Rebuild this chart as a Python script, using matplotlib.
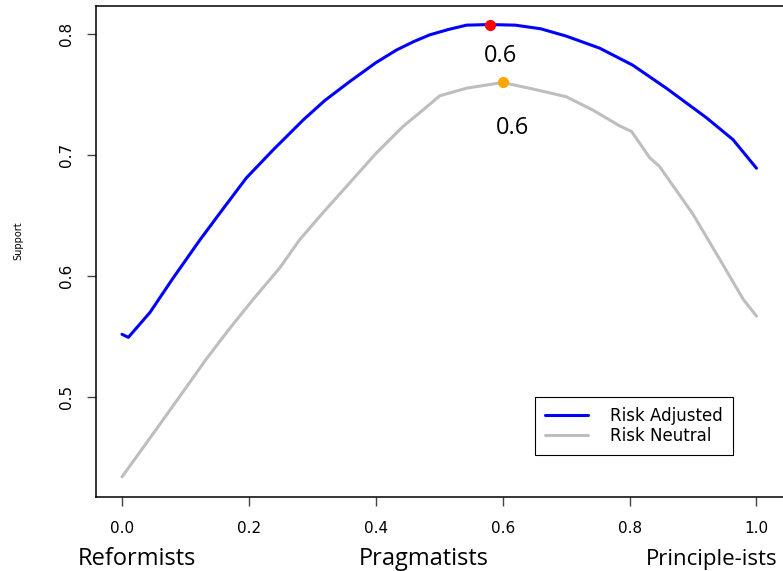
import numpy as np
import matplotlib.pyplot as plt

# risk adjusted curve (blue)
adj_x = [0, 0.01, 0.044, 0.08, 0.123, 0.16, 0.196, 0.238, 0.286, 0.32, 0.359, 0.40, 0.433, 0.46,
         0.485, 0.515, 0.543, 0.58, 0.62, 0.66, 0.70, 0.753, 0.805, 0.858, 0.921, 0.963, 1.0]
adj_y = [0.552, 0.5495, 0.570, 0.598, 0.630, 0.656, 0.681, 0.704, 0.729, 0.745, 0.7605, 0.776, 0.7866, 0.7935,
         0.799, 0.8035, 0.807, 0.8075, 0.807, 0.804, 0.798, 0.788, 0.774, 0.755, 0.7307, 0.7126, 0.689]

# risk neutral curve (gray)
neu_x = [0, 0.049, 0.09, 0.133, 0.17, 0.207, 0.249, 0.280, 0.312, 0.359, 0.401, 0.443, 0.475, 0.501,
         0.543, 0.6, 0.653, 0.70, 0.742, 0.784, 0.803, 0.832, 0.847, 0.90, 0.942, 0.979, 1.0]
neu_y = [0.4344, 0.470, 0.500, 0.5317, 0.557, 0.581, 0.607, 0.630, 0.6495, 0.677, 0.7016, 0.7235, 0.7373, 0.7488,
         0.755, 0.7597, 0.7537, 0.748, 0.737, 0.724, 0.7194, 0.6975, 0.6906, 0.651, 0.614, 0.581, 0.567]

# maxima
adj_max = (0.58, 0.8075)
neu_max = (0.60, 0.7597)

xticks = [0.0, 0.2, 0.4, 0.6, 0.8, 1.0]
yticks = [0.5, 0.6, 0.7, 0.8]
groups = ["Reformists", "Pragmatists", "Principle-ists"]

W, H = 783, 571
fig = plt.figure(figsize=(W / 100, H / 100), dpi=100)
ax = fig.add_axes([96 / W, 1 - 497 / H, 689 / W, 491 / H])

ax.plot(adj_x, adj_y, color="#0000FF", lw=2.2, label="Risk Adjusted", solid_capstyle="round")
ax.plot(neu_x, neu_y, color="#BEBEBE", lw=2.2, label="Risk Neutral", solid_capstyle="round")
ax.plot(*adj_max, "o", color="red", ms=7, zorder=5)
ax.plot(*neu_max, "o", color="orange", ms=7, zorder=5)

ax.text(0.597, 0.7813, "0.6", fontsize=17, family="Open Sans", ha="center", va="center")
ax.text(0.616, 0.7219, "0.6", fontsize=17, family="Open Sans", ha="center", va="center")

ax.set_xlim(-0.041, 1.045)
ax.set_ylim(0.4178, 0.8228)
ax.set_xticks(xticks)
ax.set_xticklabels(["%.1f" % v for v in xticks])
ax.set_yticks(yticks)
ax.set_yticklabels(["%.1f" % v for v in yticks], rotation=90, va="center")
ax.tick_params(axis="both", direction="out", length=6.5, width=1, color="#444444",
               labelsize=11)
ax.tick_params(axis="x", pad=11)
ax.tick_params(axis="y", pad=9)
for s in ax.spines.values():
    s.set_linewidth(1.1)

leg = ax.legend(loc="upper left", bbox_to_anchor=(535 / W, 1 - 397 / H), bbox_transform=fig.transFigure,
                borderaxespad=0, fontsize=12, frameon=True, fancybox=False, edgecolor="black",
                framealpha=1, handlelength=2.6, handletextpad=1.3, borderpad=0.6, labelspacing=0.1)
leg.get_frame().set_linewidth(0.8)

fig.text(18 / W, 1 - 240.5 / H, "Support", rotation=90, fontsize=7, ha="center", va="center")
fig.text(137 / W, 1 - 565 / H, groups[0], fontsize=17, family="Open Sans", ha="center", va="baseline")
fig.text(424 / W, 1 - 565 / H, groups[1], fontsize=17, family="Open Sans", ha="center", va="baseline")
fig.text(778 / W, 1 - 565 / H, groups[2], fontsize=16, family="Open Sans", ha="right", va="baseline")

fig.savefig("out.png", dpi=100)
